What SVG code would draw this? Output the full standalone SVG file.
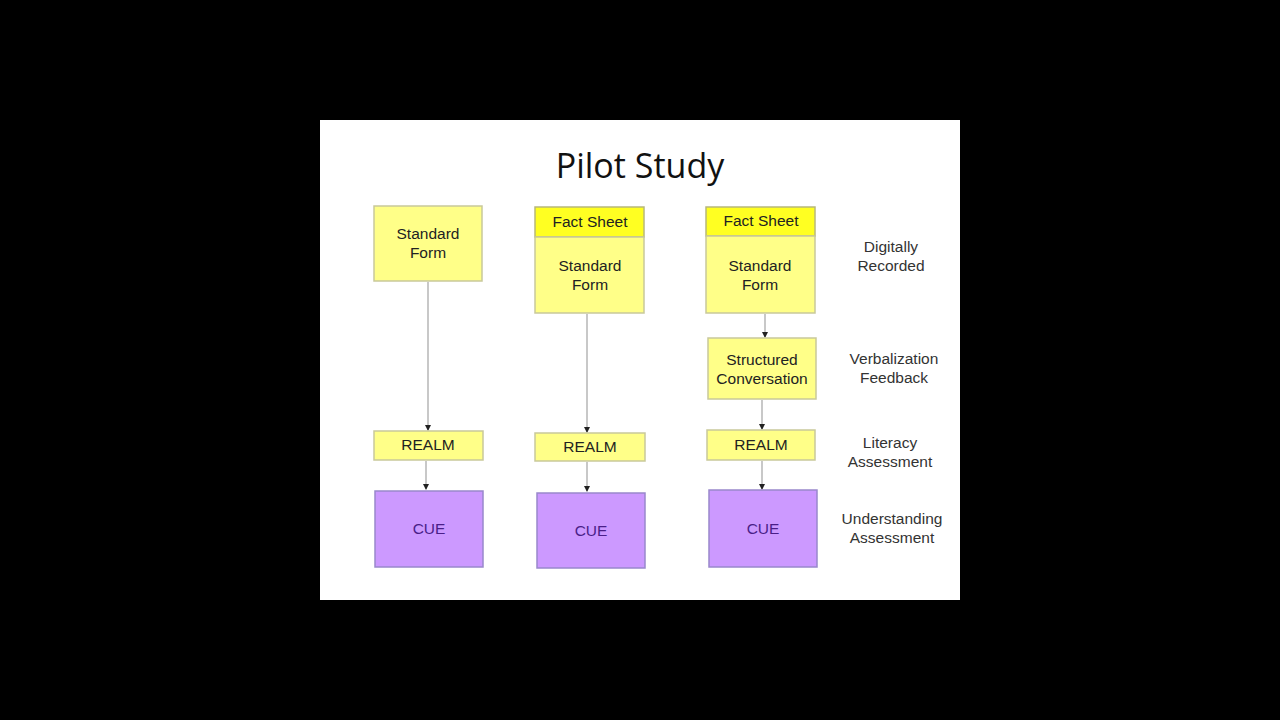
<svg xmlns="http://www.w3.org/2000/svg" width="1280" height="720" viewBox="0 0 1280 720">
<defs>
<style>
.box{fill:#ffff88;stroke:#c9c99a;stroke-width:1.5}
.fact{fill:#ffff22;stroke:#b8b87a;stroke-width:1.5}
.cue{fill:#cc99ff;stroke:#9988cc;stroke-width:1.5}
.t{font-family:"Liberation Sans",Arial,sans-serif;font-size:15.5px;fill:#222;text-anchor:middle}
.tc{font-family:"Liberation Sans",Arial,sans-serif;font-size:15.5px;fill:#4a1e88;text-anchor:middle}
.lab{font-family:"Liberation Sans",Arial,sans-serif;font-size:15.5px;fill:#333;text-anchor:middle}
.title{font-family:"Open Sans","Liberation Sans",sans-serif;font-size:34px;fill:#111;text-anchor:middle}
.c{stroke:#c8c8c8;stroke-width:2;fill:none;marker-end:url(#ah)}
</style>
<marker id="ah" viewBox="0 0 6 6" refX="5" refY="3" markerWidth="3" markerHeight="3" orient="auto" markerUnits="strokeWidth">
<path d="M0,0 L6,3 L0,6 z" fill="#222"/>
</marker>
</defs>
<rect x="0" y="0" width="1280" height="720" fill="#000"/>
<rect x="320" y="120" width="640" height="480" fill="#fff"/>
<text class="title" x="640" y="178">Pilot Study</text>

<g id="connectors">
<line class="c" x1="428" y1="282" x2="428" y2="430"/>
<line class="c" x1="426" y1="461" x2="426" y2="489"/>
<line class="c" x1="587" y1="314" x2="587" y2="432"/>
<line class="c" x1="587" y1="462" x2="587" y2="491"/>
<line class="c" x1="765" y1="314" x2="765" y2="337"/>
<line class="c" x1="762" y1="400" x2="762" y2="429"/>
<line class="c" x1="762" y1="461" x2="762" y2="489"/>
</g>

<g id="sf1"><rect class="box" x="374" y="206" width="108" height="75"/><text class="t" x="428" y="239">Standard</text><text class="t" x="428" y="258">Form</text></g>
<g id="realm1"><rect class="box" x="374" y="431" width="109" height="29"/><text class="t" x="428" y="450">REALM</text></g>
<g id="cue1"><rect class="cue" x="375" y="491" width="108" height="76"/><text class="tc" x="429" y="534">CUE</text></g>

<g id="fs2"><rect class="fact" x="535" y="207" width="109" height="30"/><text class="t" x="590" y="227">Fact Sheet</text></g>
<g id="sf2"><rect class="box" x="535" y="237" width="109" height="76"/><text class="t" x="590" y="271">Standard</text><text class="t" x="590" y="290">Form</text></g>
<g id="realm2"><rect class="box" x="535" y="433" width="110" height="28"/><text class="t" x="590" y="452">REALM</text></g>
<g id="cue2"><rect class="cue" x="537" y="493" width="108" height="75"/><text class="tc" x="591" y="536">CUE</text></g>

<g id="fs3"><rect class="fact" x="706" y="207" width="109" height="29"/><text class="t" x="761" y="226">Fact Sheet</text></g>
<g id="sf3"><rect class="box" x="706" y="236" width="109" height="77"/><text class="t" x="760" y="271">Standard</text><text class="t" x="760" y="290">Form</text></g>
<g id="sc3"><rect class="box" x="708" y="338" width="108" height="61"/><text class="t" x="762" y="365">Structured</text><text class="t" x="762" y="384">Conversation</text></g>
<g id="realm3"><rect class="box" x="707" y="430" width="108" height="30"/><text class="t" x="761" y="450">REALM</text></g>
<g id="cue3"><rect class="cue" x="709" y="490" width="108" height="77"/><text class="tc" x="763" y="534">CUE</text></g>

<g id="labels">
<text class="lab" x="891" y="252">Digitally</text><text class="lab" x="891" y="271">Recorded</text>
<text class="lab" x="894" y="364">Verbalization</text><text class="lab" x="894" y="383">Feedback</text>
<text class="lab" x="890" y="448">Literacy</text><text class="lab" x="890" y="467">Assessment</text>
<text class="lab" x="892" y="524">Understanding</text><text class="lab" x="892" y="543">Assessment</text>
</g>
</svg>
